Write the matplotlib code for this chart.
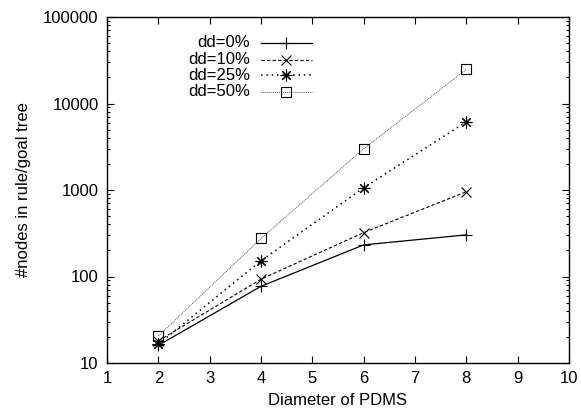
import numpy as np
import matplotlib
matplotlib.use('Agg')
import matplotlib.pyplot as plt
from matplotlib.lines import Line2D
from matplotlib.ticker import LogLocator, NullFormatter, FixedLocator

plt.rcParams['font.family'] = ['Liberation Sans', 'DejaVu Sans']
plt.rcParams['font.size'] = 12

# [1] data
diameter = [2, 4, 6, 8]
dd0 = [16, 77, 232, 303]
dd10 = [18, 93, 322, 955]
dd25 = [16.5, 152, 1060, 6150]
dd50 = [20.5, 275, 3000, 24800]
labels = ['dd=0%', 'dd=10%', 'dd=25%', 'dd=50%']
x_ticks = [1, 2, 3, 4, 5, 6, 7, 8, 9, 10]
y_ticks = [10, 100, 1000, 10000, 100000]

# [2] styles (gnuplot-ish)
asterisk = (8, 2, 0)
styles = [
    dict(color='black', linestyle='-', linewidth=0.9, marker='+', markersize=8),
    dict(color='black', linestyle=(0, (3, 2)), linewidth=0.8, marker='x', markersize=7),
    dict(color='black', linestyle=(0, (1, 2.5)), linewidth=1.1, marker=asterisk, markersize=8.5),
    dict(color='#555555', linestyle=(0, (1, 1)), linewidth=0.7, marker='s', markersize=7.5,
         markerfacecolor='none', markeredgecolor='black'),
]

fig = plt.figure(figsize=(5.81, 4.13), dpi=100)
ax = fig.add_axes([107 / 581, 50 / 413, 462 / 581, 346 / 413])

for series, st in zip([dd0, dd10, dd25, dd50], styles):
    ax.plot(diameter, series, markeredgewidth=0.8, **st)

ax.set_yscale('log')
ax.set_xlim(1, 10)
ax.set_ylim(10, 100000)
ax.xaxis.set_major_locator(FixedLocator(x_ticks))
ax.yaxis.set_major_locator(FixedLocator(y_ticks))
ax.set_yticklabels([str(v) for v in y_ticks])
ax.yaxis.set_minor_locator(LogLocator(base=10, subs=np.arange(2, 10)))
ax.yaxis.set_minor_formatter(NullFormatter())

ax.tick_params(which='both', direction='in', top=True, right=True, width=0.8)
ax.tick_params(which='major', length=5, pad=6)
ax.tick_params(which='minor', length=2.5)
for sp in ax.spines.values():
    sp.set_linewidth(1.0)

ax.set_xlabel('Diameter of PDMS', labelpad=5)
ax.set_ylabel('#nodes in rule/goal tree', labelpad=9)

# [3] legend, gnuplot style: labels right aligned, sample to the right
rows_y = [0.925, 0.877, 0.831, 0.784]
for lab, st, yy in zip(labels, styles, rows_y):
    ax.text(0.31, yy, lab, transform=ax.transAxes, ha='right', va='center')
    line_st = {k: v for k, v in st.items() if not k.startswith('marker')}
    ax.add_line(Line2D([0.333, 0.444], [yy, yy], transform=ax.transAxes, **line_st))
    mk = {k: v for k, v in st.items() if k.startswith('marker')}
    ax.add_line(Line2D([0.3885], [yy], transform=ax.transAxes, linestyle='none',
                       color=st['color'] if 'markeredgecolor' not in st else 'black',
                       markeredgewidth=0.8, **mk))

fig.savefig('out.png', dpi=100)
